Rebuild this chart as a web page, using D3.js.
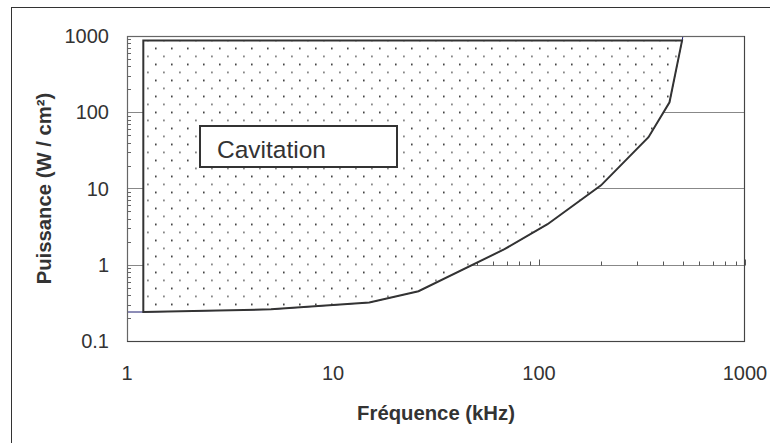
<!DOCTYPE html>
<html><head><meta charset="utf-8">
<script src="https://cdn.jsdelivr.net/npm/d3@7"></script>
<style>body{margin:0;background:#fff}svg{display:block}text{font-family:"Liberation Sans",Arial,sans-serif}</style>
</head><body><svg id="c" width="770" height="443"></svg>
<script>
// Data
const freqKHz    = [1,    1.2,  5,    15,   26,   68,  110, 200, 340, 430, 500];
const powerWcm2  = [0.24, 0.24, 0.26, 0.32, 0.45, 1.6, 3.4, 11,  47,  135, 1000];
const xTicks = [1, 10, 100, 1000];
const xTickLabels = ["1", "10", "100", "1000"];
const yTicks = [0.1, 1, 10, 100, 1000];
const yTickLabels = ["0.1", "1", "10", "100", "1000"];
const zoneLeftFreq = 1.2;    // left edge of the hatched zone
const zoneTopPower = 870;    // top edge of the hatched zone
const zoneLabel = "Cavitation";
const xTitle = "Fréquence (kHz)";
const yTitle = "Puissance (W / cm²)";

const svg = d3.select("#c");
const L = 127, R = 745, T = 36, B = 341;
const x = d3.scaleLog().domain([1, 1000]).range([L, R]);
const y = d3.scaleLog().domain([0.1, 1000]).range([B, T]);

// outer chart border
svg.append("rect").attr("x", 11.5).attr("y", 7.5).attr("width", 800).attr("height", 500)
  .attr("fill", "none").attr("stroke", "#333").attr("stroke-width", 1);

// pattern
const defs = svg.append("defs");
const pat = defs.append("pattern").attr("id", "dots").attr("patternUnits", "userSpaceOnUse")
  .attr("x", 155).attr("y", 47.6).attr("width", 16).attr("height", 16);
pat.append("rect").attr("width", 16).attr("height", 16).attr("fill", "#fff");
pat.append("rect").attr("x", 0).attr("y", 0).attr("width", 1.6).attr("height", 1.6).attr("fill", "#222");
pat.append("rect").attr("x", 8).attr("y", 8.2).attr("width", 1.8).attr("height", 1.2).attr("fill", "#444");

// gridlines
const g = svg.append("g");
yTicks.filter(v => v > 0.1 && v < 1000).forEach(v => {
  g.append("line").attr("x1", L).attr("x2", R).attr("y1", Math.round(y(v)) + 0.5).attr("y2", Math.round(y(v)) + 0.5)
    .attr("stroke", "#888").attr("stroke-width", 1);
});

// y minor ticks (inside)
const yMinor = [];
for (let d = 0.1; d < 1000; d *= 10) for (let k = 2; k <= 9; k++) yMinor.push(d * k);
yMinor.forEach(v => {
  g.append("line").attr("x1", L).attr("x2", L + 4).attr("y1", Math.round(y(v)) + 0.5).attr("y2", Math.round(y(v)) + 0.5)
    .attr("stroke", "#666");
});

// x axis crossing at y = 1, ticks upward
const xAxisY = Math.round(y(1)) + 0.5;
const xMinor = [];
for (let d = 1; d < 1000; d *= 10) for (let k = 2; k <= 9; k++) xMinor.push(d * k);
xMinor.forEach(v => {
  g.append("line").attr("x1", Math.round(x(v)) + 0.5).attr("x2", Math.round(x(v)) + 0.5)
    .attr("y1", xAxisY).attr("y2", xAxisY - 4).attr("stroke", "#555");
});
xTicks.slice(1).forEach(v => {
  g.append("line").attr("x1", Math.round(x(v)) + 0.5).attr("x2", Math.round(x(v)) + 0.5)
    .attr("y1", xAxisY).attr("y2", xAxisY - 6).attr("stroke", "#555");
});

// data series line (thin navy)
const line = d3.line().x((d, i) => x(freqKHz[i])).y((d, i) => y(powerWcm2[i]));
svg.append("path").attr("d", line(freqKHz)).attr("fill", "none").attr("stroke", "#1a1a6e").attr("stroke-width", 1);

// hatched zone polygon built from the series
const pts = [[x(zoneLeftFreq), y(zoneTopPower)]];
const yTopPx = y(zoneTopPower);
for (let i = 0; i < freqKHz.length; i++) {
  if (freqKHz[i] < zoneLeftFreq) continue;
  const px = x(freqKHz[i]), py = y(powerWcm2[i]);
  if (py >= yTopPx) pts.push([px, py]);
  else {
    const p0 = pts[pts.length - 1];
    const t = (p0[1] - yTopPx) / (p0[1] - py);
    pts.push([p0[0] + t * (px - p0[0]), yTopPx]);
    break;
  }
}
svg.append("path").attr("d", "M" + pts.map(p => p.join(",")).join("L") + "Z")
  .attr("fill", "url(#dots)").attr("stroke", "#333").attr("stroke-width", 2).attr("stroke-linejoin", "miter");

// plot border
svg.append("rect").attr("x", L + 0.5).attr("y", T + 0.5).attr("width", R - L - 1).attr("height", B - T)
  .attr("fill", "none").attr("stroke", "#666").attr("stroke-width", 1.2);
svg.append("line").attr("x1", L).attr("x2", R).attr("y1", B + 0.5).attr("y2", B + 0.5).attr("stroke", "#444");
svg.append("line").attr("x1", R - 0.5).attr("x2", R - 0.5).attr("y1", T).attr("y2", B).attr("stroke", "#444");

// label box
svg.append("rect").attr("x", 200).attr("y", 126).attr("width", 197).attr("height", 41)
  .attr("fill", "#fff").attr("stroke", "#333").attr("stroke-width", 2);
svg.append("text").attr("x", 217).attr("y", 157.5).attr("font-size", 24.5).attr("fill", "#333").text(zoneLabel);

// tick labels
svg.append("g").selectAll("text").data(yTicks).join("text")
  .attr("x", 109).attr("y", d => y(d) + 7).attr("text-anchor", "end")
  .attr("font-size", 20).attr("fill", "#333").text((d, i) => yTickLabels[i]);
svg.append("g").selectAll("text").data(xTicks).join("text")
  .attr("x", d => x(d)).attr("y", 380).attr("text-anchor", "middle")
  .attr("font-size", 20).attr("fill", "#333").text((d, i) => xTickLabels[i]);

// titles
svg.append("text").attr("x", (L + R) / 2).attr("y", 420).attr("text-anchor", "middle")
  .attr("font-size", 20.3).attr("font-weight", "bold").attr("fill", "#333").text(xTitle);
svg.append("text").attr("transform", `translate(50.5,${(T + B) / 2}) rotate(-90)`).attr("text-anchor", "middle")
  .attr("font-size", 20.3).attr("font-weight", "bold").attr("fill", "#333").text(yTitle);
</script></body></html>
